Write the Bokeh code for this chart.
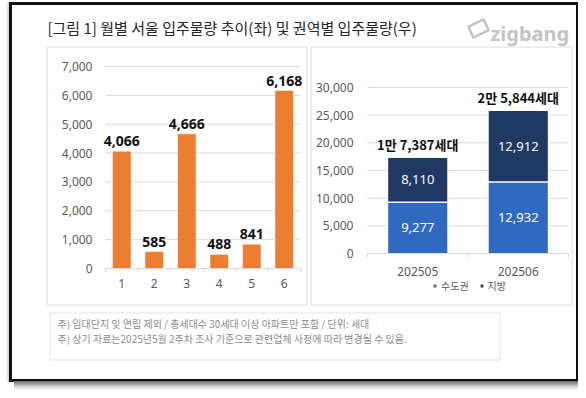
from bokeh.plotting import figure
from bokeh.models import (Range1d, FixedTicker, NumeralTickFormatter, ColumnDataSource,
                          LabelSet, Legend, LegendItem, LinearAxis)
from bokeh.core.properties import value
from bokeh.embed import file_html
from bokeh.resources import INLINE

# ---------------- data ----------------
months = [1, 2, 3, 4, 5, 6]
month_supply = [4066, 585, 4666, 488, 841, 6168]
left_ticks = [0, 1000, 2000, 3000, 4000, 5000, 6000, 7000]

periods = ["202505", "202506"]
capital_area = [9277, 12932]   # 수도권
regional = [8110, 12912]       # 지방
right_ticks = [0, 5000, 10000, 15000, 20000, 25000, 30000]
series_names = ["수도권", "지방"]

title_text = "[그림 1] 월별 서울 입주물량 추이(좌) 및 권역별 입주물량(우)"
note_lines = ["주) 임대단지 및 연립 제외 / 총세대수 30세대 이상 아파트만 포함 / 단위: 세대",
              "주) 상기 자료는2025년5월 2주차 조사 기준으로 관련업체 사정에 따라 변경될 수 있음."]

# ---------------- styles ----------------
KRN = "Noto Sans CJK KR"
KR = value(KRN)
NUM = "Noto Sans"
ORANGE = "#ED7D31"
BLUE = "#3169C1"
NAVY = "#1F3864"
GRID = "#d9d9d9"
TICK = "#595959"
PANEL = "#dcdcdc"
W, H = 578, 390


def lin_range(v0, p0, v1, p1, size, flipped=False):
    k = (v1 - v0) / (p1 - p0)
    a = v0 + (0 - p0) * k
    b = v0 + (size - p0) * k
    return Range1d(start=b, end=a) if flipped else Range1d(start=a, end=b)


p = figure(width=W, height=H, x_range=Range1d(0, W), y_range=Range1d(H, 0),
           x_axis_location=None, y_axis_location=None, toolbar_location=None,
           output_backend="svg", min_border=0, outline_line_color=None,
           background_fill_color="white", border_fill_color="white")
p.grid.visible = False

# chart coordinate systems (placed inside the canvas)
idx = list(range(1, len(periods) + 1))
p.extra_x_ranges = {
    "lx": lin_range(months[0] - 0.5, 105, months[-1] + 0.5, 300, W),
    "rx": lin_range(idx[0] - 0.5, 367, idx[-1] + 0.5, 568, W),
}
p.extra_y_ranges = {
    "ly": lin_range(left_ticks[0], 268, left_ticks[-1], 66, H, flipped=True),
    "ry": lin_range(right_ticks[0], 253, right_ticks[-1], 87, H, flipped=True),
}

# ---------------- frame & decorations ----------------
for i, c in enumerate(["#f4f4f4", "#e6e6e6", "#d2d2d2"]):
    p.quad(left=[6 + i], right=[7 + i], top=[2], bottom=[381], color=c)
p.quad(left=[9, 576], right=[11, 578], top=[2, 2], bottom=[381, 381], color="#111111")
p.quad(left=[9], right=[578], top=[2], bottom=[4], color="#111111")
p.quad(left=[9], right=[578], top=[379], bottom=[381], color="#111111")
shades = ["#6e6e6e", "#8c8c8c", "#a8a8a8", "#c0c0c0", "#d6d6d6", "#e6e6e6", "#f2f2f2"]
for i, c in enumerate(shades):
    p.quad(left=[14], right=[W], top=[381 + i * 1.3], bottom=[381 + (i + 1) * 1.3], color=c)

p.text(x=[47], y=[27], text=[title_text], text_font=KR, text_font_size="15px",
       text_color="#262626", text_baseline="middle")
p.rect(x=[478], y=[28], width=[17], height=[12], angle=[0.45], fill_color=None,
       line_color="#c4c4c4", line_width=2.5)
p.text(x=[490], y=[33], text=["zigbang"], text_font=value("Noto Sans"),
       text_font_style="bold", text_font_size="20px", text_color="#c4c4c4",
       text_baseline="alphabetic")

p.quad(left=[46.5, 310.5], right=[306.5, 571.5], top=[46.5, 46.5], bottom=[304.5, 304.5],
       fill_color=None, line_color=PANEL, line_width=1)
p.quad(left=[49.5], right=[499.5], top=[312.5], bottom=[359.5], fill_color=None,
       line_color="#e3e3e3", line_width=1)
p.text(x=[57, 57], y=[323, 338], text=note_lines, text_font=KR, text_font_size="10px",
       text_color="#8c8c8c", text_baseline="middle")


def style_axis(ax):
    ax.major_label_text_font = NUM
    ax.major_label_text_font_size = "12px"
    ax.major_label_text_color = TICK
    ax.major_tick_line_color = None
    ax.major_tick_out = 0
    ax.major_tick_in = 0


# ---------------- left chart ----------------
src1 = ColumnDataSource(dict(x=months, top=month_supply,
                             label=[f"{v:,}" for v in month_supply]))
lx0, lx1 = months[0] - 0.5, months[-1] + 0.5
p.segment(x0=[lx0] * len(left_ticks), x1=[lx1] * len(left_ticks), y0=left_ticks,
          y1=left_ticks, line_color=GRID, line_width=1, x_range_name="lx", y_range_name="ly")
p.vbar(x="x", top="top", width=0.57, source=src1, fill_color=ORANGE,
       line_color="white", line_width=0.5, x_range_name="lx", y_range_name="ly")
p.add_layout(LabelSet(x="x", y="top", text="label", source=src1, y_offset=5,
                      text_align="center", text_baseline="alphabetic",
                      text_font=value(NUM), text_font_style="bold",
                      text_font_size="14px", text_color="#111111",
                      x_range_name="lx", y_range_name="ly"))

ly_axis = LinearAxis(x_range_name="lx", y_range_name="ly", fixed_location=lx0,
                     ticker=FixedTicker(ticks=left_ticks),
                     formatter=NumeralTickFormatter(format="0,0"))
style_axis(ly_axis)
ly_axis.axis_line_color = None
ly_axis.minor_tick_line_color = None
ly_axis.major_label_standoff = 13
p.add_layout(ly_axis, "left")

lx_axis = LinearAxis(x_range_name="lx", y_range_name="ly", fixed_location=0,
                     bounds=(lx0, lx1),
                     ticker=FixedTicker(ticks=months,
                                        minor_ticks=[m - 0.5 for m in months] + [lx1]))
style_axis(lx_axis)
lx_axis.axis_line_color = GRID
lx_axis.minor_tick_line_color = GRID
lx_axis.minor_tick_in = 0
lx_axis.minor_tick_out = 4
lx_axis.major_label_standoff = 6
p.add_layout(lx_axis, "below")

# ---------------- right chart ----------------
totals = [c + r for c, r in zip(capital_area, regional)]
src2 = ColumnDataSource(dict(
    x=idx, capital=capital_area, regional=regional,
    cap_mid=[c / 2 for c in capital_area],
    reg_mid=[c + r / 2 for c, r in zip(capital_area, regional)],
    total=totals,
    cap_lab=[f"{v:,}" for v in capital_area],
    reg_lab=[f"{v:,}" for v in regional],
    tot_lab=[f"{t // 10000}만 {t % 10000:,}세대" for t in totals],
))
rx0, rx1 = idx[0] - 0.5, idx[-1] + 0.5
p.segment(x0=[rx0] * len(right_ticks), x1=[rx1] * len(right_ticks), y0=right_ticks,
          y1=right_ticks, line_color=GRID, line_width=1, x_range_name="rx", y_range_name="ry")
rs = p.vbar_stack(["capital", "regional"], x="x", width=0.6, source=src2,
                  fill_color=[BLUE, NAVY], line_color="white", line_width=1.2,
                  x_range_name="rx", y_range_name="ry")
for ycol, tcol in (("cap_mid", "cap_lab"), ("reg_mid", "reg_lab")):
    p.add_layout(LabelSet(x="x", y=ycol, text=tcol, source=src2,
                          text_align="center", text_baseline="middle",
                          text_font=value(NUM), text_font_size="13px", text_color="white",
                          x_range_name="rx", y_range_name="ry"))
p.add_layout(LabelSet(x="x", y="total", text="tot_lab", source=src2, y_offset=13,
                      text_align="center", text_baseline="middle",
                      text_font=KR, text_font_style="bold", text_font_size="13px",
                      text_color="#111111", x_range_name="rx", y_range_name="ry"))

ry_axis = LinearAxis(x_range_name="rx", y_range_name="ry", fixed_location=rx0,
                     ticker=FixedTicker(ticks=right_ticks),
                     formatter=NumeralTickFormatter(format="0,0"))
style_axis(ry_axis)
ry_axis.axis_line_color = None
ry_axis.minor_tick_line_color = None
ry_axis.major_label_standoff = 14
p.add_layout(ry_axis, "left")

rx_axis = LinearAxis(x_range_name="rx", y_range_name="ry", fixed_location=0,
                     bounds=(rx0, rx1),
                     ticker=FixedTicker(ticks=idx, minor_ticks=[i - 0.5 for i in idx] + [rx1]))
rx_axis.major_label_overrides = {i: lab for i, lab in zip(idx, periods)}
style_axis(rx_axis)
rx_axis.axis_line_color = GRID
rx_axis.minor_tick_line_color = GRID
rx_axis.minor_tick_in = 0
rx_axis.minor_tick_out = 4
rx_axis.major_label_standoff = 9
p.add_layout(rx_axis, "below")

legend = Legend(items=[LegendItem(label=series_names[i], renderers=[rs[i]]) for i in range(2)],
                orientation="horizontal", location=(432, 97),
                glyph_width=5, glyph_height=5, label_height=10, label_standoff=4,
                spacing=10, padding=0, margin=0, border_line_color=None,
                background_fill_alpha=0, label_text_font=KRN,
                label_text_font_size="10px", label_text_color=TICK)
p.add_layout(legend, "center")

open("out.html", "w").write(file_html(p, INLINE))
